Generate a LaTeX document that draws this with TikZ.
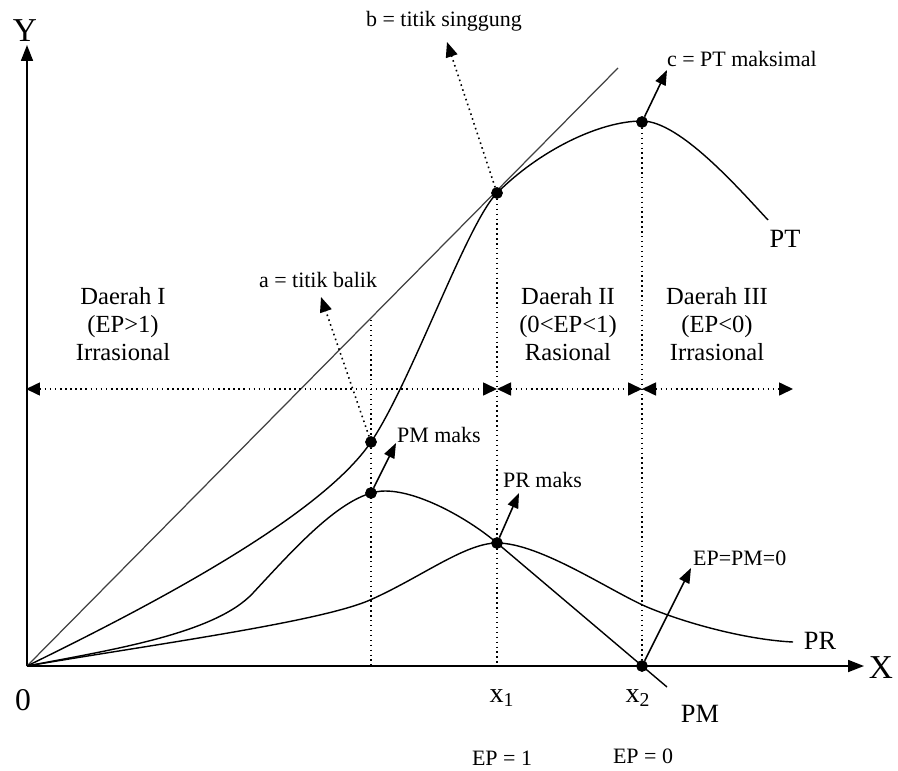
\documentclass[tikz,border=0pt]{standalone}
\usepackage{fontspec}
\setmainfont{Liberation Serif}
\usetikzlibrary{arrows.meta}
\begin{document}
\begin{tikzpicture}[x=0.02cm, y=-0.02cm]
\tikzset{titik/.style={draw, circle, fill, inner sep=0pt, minimum size=0.22cm},
kurva/.style={line width=0.8pt},
panah/.style={line width=0.9pt, -{Triangle[length=0.3cm, width=0.22cm]}},
panahbintik/.style={dotted, line width=0.9pt, -{Triangle[length=0.3cm, width=0.24cm]}},
batas/.style={dotted, line width=0.9pt, {Triangle[length=0.28cm, width=0.26cm]}-{Triangle[length=0.28cm, width=0.26cm]}},
garis/.style={dotted, line width=0.8pt},
teks/.style={font=\fontsize{12.5}{15}\selectfont, inner sep=1pt},
daerah/.style={font=\fontsize{14}{16}\selectfont, align=center},
nama/.style={font=\fontsize{15}{18}\selectfont}}
\useasboundingbox (0,0) rectangle (898,770);
% sumbu
\coordinate (O) at (27,666);
\coordinate (ujungY) at (27,45);
\coordinate (ujungX) at (864,666);
\draw[line width=1pt, -{Triangle[length=0.32cm, width=0.24cm]}] (O) -- (ujungY);
\draw[line width=1pt, -{Triangle[length=0.32cm, width=0.24cm]}] (O) -- (ujungX);
\node[font=\fontsize{19}{22}\selectfont] (Y) at (25,31) {Y};
\node[font=\fontsize{19}{22}\selectfont] (X) at (881,668) {X};
\node[font=\fontsize{18}{22}\selectfont] (nol) at (23,700) {0};
% garis singgung
\coordinate (singgung) at (618,68);
\draw[line width=0.7pt, black!75] (O) -- (singgung);
% kurva PT
\draw[kurva] (27,666) .. controls (150,606) and (320,517) .. (371,442)
  .. controls (411,383) and (467,223) .. (497,193)
  .. controls (540,150) and (600,121) .. (642,121)
  .. controls (680,121) and (740,190) .. (768,220);
% kurva PM
\draw[kurva] (27,666) .. controls (110,650) and (215,634) .. (253,593)
  .. controls (295,548) and (345,491) .. (385,491)
  .. controls (420,491) and (470,520) .. (497,543) -- (667,687);
% kurva PR
\draw[kurva] (27,666) .. controls (150,645) and (320,622) .. (370,600)
  .. controls (420,578) and (465,543) .. (497,543)
  .. controls (540,543) and (610,591) .. (647,607)
  .. controls (690,625) and (750,640) .. (793,642);
\node[nama] (PT) at (785,239) {PT};
\node[nama] (PR) at (820,641) {PR};
\node[nama] (PM) at (700,714) {PM};
% titik-titik
\node[titik] (a) at (371,442) {};
\node[titik] (pmmaks) at (371,493) {};
\node[titik] (b) at (497,193) {};
\node[titik] (c) at (642,122) {};
\node[titik] (prmaks) at (497,543) {};
\node[titik] (x2titik) at (642,666) {};
% garis tegak
\coordinate (atas1) at (371,320);
\coordinate (kaki1) at (371,666);
\coordinate (kaki2) at (497,666);
\draw[garis] (atas1) -- (kaki1);
\draw[garis] (b) -- (kaki2);
\draw[garis] (c) -- (x2titik);
% batas daerah
\coordinate (h0) at (26,389);
\coordinate (h1) at (497,389);
\coordinate (h2) at (642,389);
\coordinate (h3) at (793,389);
\draw[batas] (h0) -- (h1);
\draw[batas] (h1) -- (h2);
\draw[batas] (h2) -- (h3);
\node[daerah] (d1) at (123,324) {Daerah I\\(EP>1)\\Irrasional};
\node[daerah] (d2) at (568,324) {Daerah II\\(0<EP<1)\\Rasional};
\node[daerah] (d3) at (717,324) {Daerah III\\(EP<0)\\Irrasional};
% keterangan
\coordinate (ua) at (321,297);
\coordinate (ub) at (447,42);
\coordinate (uc) at (667,70);
\coordinate (upm) at (396,443);
\coordinate (upr) at (519,493);
\coordinate (uep) at (691,568);
\draw[panahbintik] (a) -- (ua);
\draw[panahbintik] (b) -- (ub);
\draw[panah] (c) -- (uc);
\draw[panah] (pmmaks) -- (upm);
\draw[panah] (prmaks) -- (upr);
\draw[panah] (x2titik) -- (uep);
\node[teks] (ta) at (318,280) {a = titik balik};
\node[teks] (tb) at (444,21) {b = titik singgung};
\node[teks, anchor=west] (tc) at (665,59) {c = PT maksimal};
\node[teks, anchor=west] (tpm) at (395,435) {PM maks};
\node[teks, anchor=west] (tpr) at (501,480) {PR maks};
\node[teks, anchor=west] (tep) at (691,558) {EP=PM=0};
% sumbu X
\node[font=\fontsize{16}{18}\selectfont] (x1) at (502,698) {x\textsubscript{1}};
\node[font=\fontsize{16}{18}\selectfont] (x2) at (638,698) {x\textsubscript{2}};
\node[font=\fontsize{12.5}{15}\selectfont] (ep1) at (502,758) {EP = 1};
\node[font=\fontsize{12.5}{15}\selectfont] (ep0) at (643,756) {EP = 0};
\end{tikzpicture}
\end{document}
